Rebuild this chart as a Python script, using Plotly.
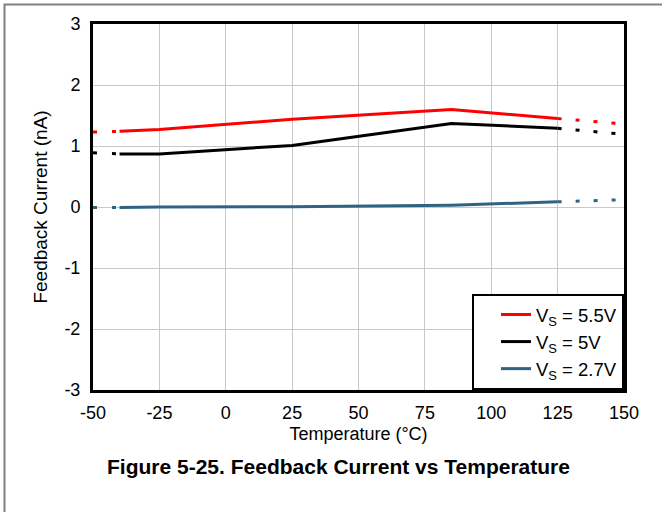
import plotly.graph_objects as go

temps = [-40, -25, 25, 85, 125]
vs55 = [1.24, 1.27, 1.44, 1.60, 1.45]
vs50 = [0.87, 0.87, 1.01, 1.37, 1.29]
vs27 = [-0.01, 0.00, 0.005, 0.03, 0.085]

ext_left_t = [-50, -40]
ext_right_t = [125, 150]
vs55_left = [1.23, 1.24]
vs55_right = [1.45, 1.36]
vs50_left = [0.89, 0.87]
vs50_right = [1.29, 1.19]
vs27_left = [-0.01, -0.01]
vs27_right = [0.085, 0.12]

names = ["V<sub>S</sub> = 5.5V", "V<sub>S</sub> = 5V", "V<sub>S</sub> = 2.7V"]
colors = ["#FF0000", "#000000", "#2E6482"]

xticks = [-50, -25, 0, 25, 50, 75, 100, 125, 150]
yticks = [-3, -2, -1, 0, 1, 2, 3]

fig = go.Figure()
series = [(vs55, vs55_left, vs55_right), (vs50, vs50_left, vs50_right), (vs27, vs27_left, vs27_right)]
for (main, left, right), name, col in zip(series, names, colors):
    fig.add_trace(go.Scatter(x=temps, y=main, mode="lines", name=name,
                             line=dict(color=col, width=3)))
    fig.add_trace(go.Scatter(x=ext_left_t, y=left, mode="lines", showlegend=False,
                             line=dict(color=col, width=3, dash="4px,15px")))
    fig.add_trace(go.Scatter(x=ext_right_t, y=right, mode="lines", showlegend=False,
                             line=dict(color=col, width=3, dash="4px,14px")))

font = "Liberation Sans, Arial, sans-serif"
fig.update_layout(
    width=662, height=512,
    margin=dict(l=93, r=38, t=24, b=122),
    plot_bgcolor="white", paper_bgcolor="white",
    font=dict(family=font, size=18, color="black"),
    showlegend=True,
    legend=dict(x=1, y=0, xanchor="right", yanchor="bottom",
                bordercolor="black", borderwidth=2, bgcolor="white",
                font=dict(size=18.5), tracegroupgap=0, indentation=22),
    xaxis=dict(range=[-50, 150], tickvals=xticks, ticktext=[str(v) for v in xticks],
               showgrid=True, gridcolor="#C8C8C8", gridwidth=1,
               showline=True, linecolor="black", linewidth=3, mirror=True,
               zeroline=False, ticks="", tickfont=dict(size=18), ticklabelstandoff=4,
               title=dict(text="Temperature (°C)", font=dict(size=18), standoff=6)),
    yaxis=dict(range=[-3, 3], tickvals=yticks, ticktext=[str(v) for v in yticks],
               showgrid=True, gridcolor="#C8C8C8", gridwidth=1,
               showline=True, linecolor="black", linewidth=3, mirror=True,
               zeroline=False, ticks="", tickfont=dict(size=18), ticklabelstandoff=6,
               title=dict(text="Feedback Current (nA)", font=dict(size=19), standoff=12)),
)

fig.add_annotation(text="<b>Figure 5-25. Feedback Current vs Temperature</b>",
                   xref="paper", yref="paper", x=(338 - 93) / 531, y=-(466 - 390) / 366,
                   xanchor="center", yanchor="middle", showarrow=False,
                   font=dict(size=21, family=font, color="black"))

fig.add_shape(type="rect", xref="paper", yref="paper",
              x0=(4.5 - 93) / 531, x1=(700 - 93) / 531,
              y0=-(560 - 390) / 366, y1=1 + (24 - 4.5) / 366,
              line=dict(color="#808080", width=2), layer="below")

fig.write_html("out.html", config={"displayModeBar": False},
               post_script="document.body.style.margin='0';document.body.style.overflow='hidden';")
